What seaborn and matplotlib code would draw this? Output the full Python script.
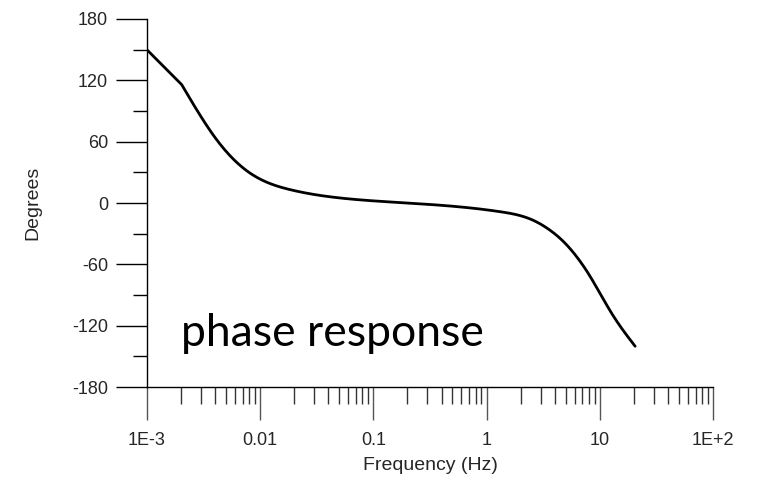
import numpy as np
import pandas as pd
import matplotlib
matplotlib.use("Agg")
import matplotlib.pyplot as plt
import matplotlib.ticker as mticker
import seaborn as sns

# --- data ---
freq_hz = [0.001, 0.00203, 0.00413, 0.0081, 0.0183, 0.0507, 0.172,
           0.713, 1.33, 2.42, 3.63, 4.76, 6.25, 8.19, 10.0, 13.2, 20.5]
phase_deg = [150.0, 115.8, 62.0, 29.5, 13.2, 5.0, 0.5,
             -4.7, -8.5, -15.5, -26.5, -37.5, -52.5, -71.5, -88.0, -110.6, -140.0]

x_ticks = [1e-3, 1e-2, 1e-1, 1, 10, 100]
x_tick_labels = ["1E-3", "0.01", "0.1", "1", "10", "1E+2"]
y_ticks = [-180, -120, -60, 0, 60, 120, 180]

df = pd.DataFrame({"freq": freq_hz, "phase": phase_deg})

sns.set_theme(style="ticks")
plt.rcParams["font.family"] = ["Liberation Sans", "DejaVu Sans"]
plt.rcParams["axes.unicode_minus"] = False

fig = plt.figure(figsize=(7.61, 4.87), dpi=100)
ax = fig.add_axes([0.193, 0.205, 0.744, 0.756])

# first segment is straight in the reference, the rest is a smooth curve:
# natural cubic spline through the read points (from the 2nd on), in log-frequency
lx = np.log10(df["freq"].values)[1:]
ly = df["phase"].values[1:]
n = len(lx)
h = np.diff(lx)
A = np.zeros((n, n))
r = np.zeros(n)
A[0, 0] = A[-1, -1] = 1
for i in range(1, n - 1):
    A[i, i - 1] = h[i - 1]
    A[i, i] = 2 * (h[i - 1] + h[i])
    A[i, i + 1] = h[i]
    r[i] = 6 * ((ly[i + 1] - ly[i]) / h[i] - (ly[i] - ly[i - 1]) / h[i - 1])
M = np.linalg.solve(A, r)
xs = np.linspace(lx[0], lx[-1], 400)
k = np.clip(np.searchsorted(lx, xs) - 1, 0, n - 2)
a = lx[k + 1] - xs
b = xs - lx[k]
hk = h[k]
ys = (M[k] * a**3 / (6 * hk) + M[k + 1] * b**3 / (6 * hk)
      + (ly[k] / hk - M[k] * hk / 6) * a + (ly[k + 1] / hk - M[k + 1] * hk / 6) * b)

curve = pd.DataFrame({"freq": np.concatenate([[df["freq"].iloc[0]], 10 ** xs]),
                      "phase": np.concatenate([[df["phase"].iloc[0]], ys])})

sns.lineplot(data=curve, x="freq", y="phase", color="black", linewidth=2.0, ax=ax,
             sort=False)

ax.set_xscale("log")
ax.set_xlim(1e-3, 100)
ax.set_ylim(-180, 180)
ax.set_xticks(x_ticks)
ax.set_xticklabels(x_tick_labels)
ax.xaxis.set_minor_locator(mticker.LogLocator(base=10, subs=np.arange(2, 10)))
ax.xaxis.set_minor_formatter(mticker.NullFormatter())
ax.set_yticks(y_ticks)
ax.yaxis.set_minor_locator(mticker.MultipleLocator(30))

sns.despine(ax=ax)
for side in ["left", "bottom"]:
    ax.spines[side].set_color("black")
    ax.spines[side].set_linewidth(1.0)

ax.tick_params(axis="x", which="major", direction="out", length=24, width=1,
               color="#555555", labelsize=13, pad=8)
ax.tick_params(axis="x", which="minor", direction="out", length=12, width=1,
               color="#333333")
ax.tick_params(axis="y", which="major", direction="out", length=22, width=1,
               color="black", labelsize=13, pad=6)
ax.tick_params(axis="y", which="minor", direction="out", length=10, width=1,
               color="black")

ax.set_xlabel("Frequency (Hz)", fontsize=14, labelpad=6)
ax.set_ylabel("Degrees", fontsize=14, labelpad=22)

ax.text(0.00199, -140, "phase response", fontsize=32, family=["Lato", "DejaVu Sans"],
        ha="left", va="baseline", color="black")

fig.savefig("out.png", dpi=100)
